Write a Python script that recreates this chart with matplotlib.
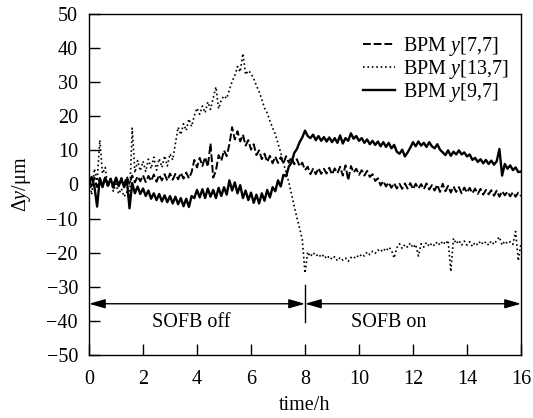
import numpy as np
import matplotlib
matplotlib.use("Agg")
import matplotlib.pyplot as plt

plt.rcParams['font.family'] = ['Liberation Serif', 'DejaVu Serif']
plt.rcParams['mathtext.fontset'] = 'custom'
plt.rcParams['mathtext.rm'] = 'Liberation Serif'
plt.rcParams['mathtext.it'] = 'Liberation Serif:italic'

# BPM readings (um), one sample every 0.1 h, one row per hour
bpm_7_7 = [
    1.5, -0.5, 2.0, -0.8, 1.8, -0.3, 2.2, -0.6, 1.6, -0.2,
    2.1, -0.4, 1.9, 0.0, 2.3, 0.2, 2.6, 0.6, 2.4, 0.9,
    2.7, 0.7, 2.5, 1.0, 2.9, 0.8, 2.8, 1.2, 3.0, 1.1,
    3.2, 1.4, 3.1, 1.5, 3.4, 1.7, 3.5, 1.8, 3.6, 7.2,
    5.0, 7.8, 5.4, 8.0, 5.2, 12.0, 2.0, 4.0, 8.6, 6.9,
    10.0, 8.3, 11.8, 16.8, 13.2, 15.6, 12.6, 14.6, 11.4, 13.0,
    10.2, 11.8, 8.6, 10.0, 7.4, 9.0, 6.6, 8.4, 6.2, 8.2,
    6.3, 8.0, 6.1, 8.3, 6.4, 8.0, 5.9, 7.4, 5.3, 6.4,
    4.2, 5.2, 3.0, 4.6, 3.0, 4.8, 3.1, 4.6, 3.2, 4.9,
    2.9, 4.7, 3.3, 5.2, 2.6, 5.6, 1.2, 5.4, 3.5, 4.6,
    2.8, 4.2, 2.6, 4.0, 2.2, 3.0, 1.0, 1.8, -0.3, 1.0,
    -0.6, 0.6, -1.0, 0.4, -1.2, 0.2, -1.3, 0.3, -1.2, 0.4,
    -1.4, 0.2, -1.2, 0.1, -1.4, 0.3, -1.5, -0.2, -1.8, -0.1,
    -2.2, 0.2, -2.0, -0.4, -2.4, -0.6, -2.2, -0.8, -2.6, -0.9,
    -2.4, -1.0, -2.6, -1.2, -2.8, -1.3, -3.0, -1.6, -2.9, -1.7,
    -3.3, -1.8, -3.6, -2.0, -3.2, -2.1, -3.5, -2.3, -3.6, -2.4,
    -3.4,
]

bpm_13_7 = [
    2.0, -3.0, 4.6, 1.0, 13.0, 3.2, 5.0, -0.8, 1.6, -2.0,
    0.2, -2.8, -1.2, -3.6, -2.2, -4.6, 16.5, 3.4, 7.0, 4.0,
    6.8, 3.8, 7.4, 4.6, 8.0, 4.2, 7.6, 5.0, 8.4, 5.4,
    9.0, 7.2, 12.0, 16.8, 14.6, 17.8, 15.8, 19.2, 17.0, 20.2,
    22.4, 20.6, 23.0, 21.0, 24.2, 22.0, 25.4, 28.6, 22.2, 24.8,
    26.0, 25.2, 27.8, 30.2, 32.0, 34.6, 33.0, 38.4, 32.2, 33.4,
    32.6, 31.0, 29.0, 27.2, 25.0, 22.4, 21.0, 18.6, 16.6, 14.8,
    12.0, 9.4, 6.2, 3.6, 0.6, -2.8, -6.4, -9.8, -12.8, -16.2,
    -26.0, -19.8, -21.2, -20.0, -21.0, -20.4, -21.4, -20.6, -21.8, -21.0,
    -22.0, -21.2, -22.4, -21.4, -22.2, -21.6, -22.6, -21.4, -21.8, -20.8,
    -21.4, -20.4, -21.0, -19.8, -20.6, -19.6, -20.2, -19.2, -19.8, -18.8,
    -19.6, -18.4, -19.2, -21.6, -18.6, -17.4, -18.8, -17.6, -18.4, -17.2,
    -18.6, -17.6, -21.0, -17.4, -18.4, -17.0, -18.2, -17.2, -18.0, -16.8,
    -17.8, -16.6, -17.6, -16.4, -25.6, -15.8, -17.4, -16.4, -17.8, -16.6,
    -17.8, -16.8, -18.2, -17.0, -17.8, -16.6, -17.6, -16.8, -17.8, -16.6,
    -17.6, -16.4, -15.4, -17.8, -16.6, -17.4, -16.8, -17.6, -13.8, -22.4,
    -17.2,
]

bpm_9_7 = [
    0.2, 2.2, -0.6, -6.5, 1.8, -0.8, 2.0, -0.4, 1.7, -0.9,
    2.0, -0.5, 1.6, -0.8, 1.4, -7.0, 0.4, -2.6, -0.6, -2.8,
    -1.2, -3.4, -1.8, -4.2, -2.6, -4.6, -2.8, -5.0, -3.2, -5.2,
    -3.4, -5.6, -3.6, -5.8, -4.0, -6.4, -4.2, -6.6, -3.4, -4.0,
    -1.6, -3.8, -1.4, -4.0, -1.2, -3.6, -1.6, -4.0, -1.0, -3.4,
    -0.8, -3.0, 1.2, -1.8, 0.6, -2.6, -0.2, -4.0, -1.8, -4.6,
    -2.4, -5.4, -3.0, -5.6, -2.6, -4.8, -1.6, -3.8, -0.8, -2.0,
    1.2, -0.6, 2.8, 2.4, 5.2, 6.4, 9.2, 10.4, 12.4, 13.8,
    15.8, 14.2, 13.6, 14.6, 13.0, 14.2, 12.8, 13.9, 12.6, 13.8,
    12.4, 13.6, 12.2, 14.4, 12.0, 13.6, 12.8, 15.0, 13.4, 14.2,
    12.8, 13.6, 12.2, 13.2, 11.8, 12.8, 11.6, 12.6, 11.2, 12.4,
    11.0, 12.2, 10.6, 11.6, 9.6, 9.0, 10.2, 8.2, 9.4, 10.8,
    12.4, 11.2, 12.6, 11.4, 12.2, 11.0, 12.4, 11.2, 10.6, 11.8,
    10.2, 9.4, 8.6, 10.0, 8.4, 9.6, 8.8, 10.0, 8.8, 9.4,
    8.2, 8.8, 7.2, 7.8, 6.6, 7.4, 6.2, 7.2, 6.0, 7.0,
    5.8, 6.8, 10.4, 2.6, 6.0, 4.6, 5.6, 4.2, 5.0, 3.6,
    3.8,
]

hours = np.linspace(0, 16, len(bpm_7_7))

labels = ['BPM $y$[7,7]', 'BPM $y$[13,7]', 'BPM $y$[9,7]']
x_ticks = [0, 2, 4, 6, 8, 10, 12, 14, 16]
y_ticks = [-50, -40, -30, -20, -10, 0, 10, 20, 30, 40, 50]

fig = plt.figure(figsize=(5.33, 4.18), dpi=100)
ax = fig.add_axes([0.167, 0.151, 0.8105, 0.8155])

ax.plot(hours, bpm_7_7, color='k', ls='--', dashes=(4, 1.5), lw=1.4,
        label=labels[0])
ax.plot(hours, bpm_13_7, color='k', ls=':', lw=1.2, label=labels[1])
ax.plot(hours, bpm_9_7, color='k', ls='-', lw=1.7, label=labels[2])

ax.set_xlim(0, 16)
ax.set_ylim(-50, 50)
ax.set_xticks(x_ticks)
ax.set_yticks(y_ticks)
ax.tick_params(direction='in', length=8, width=1, labelsize=14.5,
               top=False, right=False)
ax.tick_params(axis='y', pad=8)
ax.tick_params(axis='x', pad=11)
for s in ax.spines.values():
    s.set_linewidth(1)

ax.set_xlabel('time/h', fontsize=14.5, labelpad=5)
ax.set_ylabel('Δ$y$/μm', fontsize=14.5, labelpad=10)

# SOFB off / on markers
arrow = dict(arrowstyle='<|-|>,head_length=0.7,head_width=0.2', color='k',
             lw=1, shrinkA=0, shrinkB=0, mutation_scale=14)
ax.annotate('', xy=(0, -35), xytext=(8, -35), arrowprops=arrow)
ax.annotate('', xy=(8, -35), xytext=(16, -35), arrowprops=arrow)
ax.plot([8, 8], [-29.5, -40.5], color='k', lw=1)
ax.text(3.8, -40.5, 'SOFB off', fontsize=14.5, ha='center', va='center')
ax.text(11.1, -40.5, 'SOFB on', fontsize=14.5, ha='center', va='center')

ax.legend(loc='upper right', bbox_to_anchor=(1.0, 0.975), frameon=False,
          fontsize=14.5, handlelength=1.6, handletextpad=0.4,
          labelspacing=0.02, borderaxespad=0.2)

fig.savefig('out.png', dpi=100)
